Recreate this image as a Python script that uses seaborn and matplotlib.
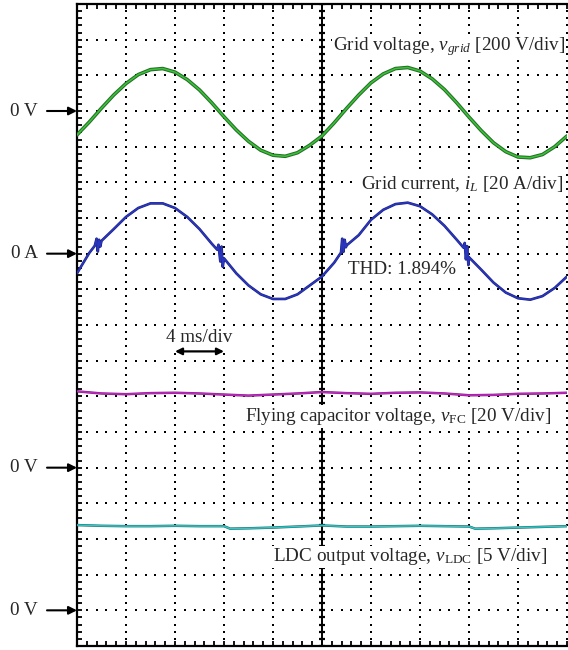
import matplotlib
matplotlib.use('Agg')

import matplotlib.pyplot as plt
import matplotlib.patheffects as pe
import numpy as np
import seaborn as sns

# time axis, ms (4 ms/div, 10 div)
t_1ms = list(range(0, 41))

# grid voltage, V (200 V/div)
v_grid = [-134, -62, 16, 90, 154, 204, 232, 238, 218, 176,
          118, 46, -32, -106, -170, -220, -248, -254, -234, -192,
          -140, -66, 14, 90, 158, 208, 238, 244, 224, 180,
          120, 46, -34, -110, -178, -228, -258, -262, -244, -200, -140]

# grid current, A (20 A/div), with the zero-crossing notches
t_il = [0, 1, 1.45, 1.6, 1.7, 1.8, 1.9, 2, 3, 4, 5, 6, 7, 8, 9, 10, 11,
        11.45, 11.55, 11.7, 11.8, 11.9, 12, 13, 14, 15, 16, 17, 18, 19,
        20, 21, 21.55, 21.65, 21.75, 21.85, 21.95, 22, 23, 24, 25, 26, 27, 28, 29, 30, 31,
        31.55, 31.65, 31.75, 31.85, 31.95, 32, 33, 34, 35, 36, 37, 38, 39, 40]
i_l = [-11.0, 0.4, 4.4, 8.4, 1.2, 7.8, 4.0, 7.2, 13.8, 20.6, 25.6, 28.2, 28.2, 25.6, 20.6, 13.8, 5.6,
       2.2, 5.0, -4.4, 4.0, -7.4, -2.6, -11.0, -17.8, -22.8, -25.4, -25.4, -22.8, -17.8,
       -12.8, -5.0, 0.6, 8.4, 1.0, 7.8, 3.6, 4.6, 10.4, 19.0, 24.6, 27.8, 28.6, 26.6, 22.0, 15.6, 7.8,
       3.4, 6.0, -3.2, 4.2, -6.4, -2.0, -9.0, -16.2, -21.8, -25.0, -25.8, -23.8, -19.2, -12.8]

# flying capacitor voltage, V (20 V/div)
t_2ms = list(range(0, 41, 2))
v_fc = [42.8, 41.6, 41.2, 41.8, 42.0, 41.6, 41.0, 40.4, 41.0, 41.6, 42.4,
        41.8, 41.4, 42.0, 42.2, 41.6, 40.6, 40.8, 41.4, 41.6, 42.0]

# LDC output voltage, V (5 V/div)
t_ldc = [0, 2, 4, 6, 8, 10, 12, 12.5, 14, 16, 18, 20, 22, 24, 26, 28, 30, 32, 32.5, 34, 36, 38, 40]
v_ldc = [11.95, 11.85, 11.8, 11.8, 11.85, 11.8, 11.8, 11.45, 11.5, 11.6, 11.75, 11.9,
         11.75, 11.75, 11.8, 11.85, 11.8, 11.75, 11.45, 11.5, 11.6, 11.7, 11.8]

# screen setup: volts/amps per division and zero-level row (div from bottom)
ms_per_div = 4
n_xdiv, n_ydiv = 10, 18
ch = {
    'grid_v': dict(scale=200, zero=15),
    'grid_i': dict(scale=20, zero=11),
    'fc': dict(scale=20, zero=5),
    'ldc': dict(scale=5, zero=1),
}

sns.set_theme(style='white')
plt.rcParams['font.family'] = ['Liberation Serif', 'DejaVu Serif']
plt.rcParams['mathtext.fontset'] = 'custom'
plt.rcParams['mathtext.rm'] = 'Liberation Serif'
plt.rcParams['mathtext.it'] = 'Liberation Serif:italic'
plt.rcParams['mathtext.bf'] = 'Liberation Serif:bold'

fig = plt.figure(figsize=(5.68, 6.5), dpi=100)
ax = fig.add_axes([77 / 568, 4 / 650, 490 / 568, 642 / 650])
ax.set_xlim(0, n_xdiv)
ax.set_ylim(0, n_ydiv)


def to_screen(t, vals, key):
    c = ch[key]
    x = np.asarray(t, dtype=float) / ms_per_div
    y = np.asarray(vals, dtype=float) / c['scale'] + c['zero']
    return x, y


# dotted graticule
minor = np.arange(0, n_xdiv + 0.001, 0.2)
minor_y = np.arange(0, n_ydiv + 0.001, 0.2)
for k in range(1, n_ydiv):
    ax.plot(minor, [k] * len(minor), ls='none', marker='s', ms=1.5, mew=0, color='black', zorder=1)
for k in range(1, n_xdiv + 1):
    if k == 5:
        continue
    ax.plot([k] * len(minor_y), minor_y, ls='none', marker='s', ms=1.5, mew=0, color='black', zorder=1)

# center axis with ticks
ax.axvline(5, color='black', lw=1.4, zorder=2)
ax.plot([5] * len(minor_y), minor_y, ls='none', marker='_', ms=5, mew=1.6, color='black', zorder=2)

# traces
x, y = to_screen(t_1ms, v_grid, 'grid_v')
sns.lineplot(x=x, y=y, ax=ax, color='#33c833', linewidth=1.1, estimator=None, zorder=4,
             path_effects=[pe.Stroke(linewidth=2.6, foreground='#2d6a2d'), pe.Normal()])
x, y = to_screen(t_il, i_l, 'grid_i')
sns.lineplot(x=x, y=y, ax=ax, color='#2a36c0', linewidth=1.1, estimator=None, zorder=4,
             path_effects=[pe.Stroke(linewidth=1.9, foreground='#1c2480'), pe.Normal()])
x, y = to_screen(t_2ms, v_fc, 'fc')
sns.lineplot(x=x, y=y, ax=ax, color='#c824c8', linewidth=1.0, estimator=None, zorder=4,
             path_effects=[pe.Stroke(linewidth=1.8, foreground='#7a2a7a'), pe.Normal()])
x, y = to_screen(t_ldc, v_ldc, 'ldc')
sns.lineplot(x=x, y=y, ax=ax, color='#2ccaca', linewidth=1.0, estimator=None, zorder=4,
             path_effects=[pe.Stroke(linewidth=1.8, foreground='#2a6a6a'), pe.Normal()])

# frame
for side in ['left', 'top', 'bottom']:
    ax.spines[side].set_color('black')
    ax.spines[side].set_linewidth(1.6)
ax.spines['right'].set_visible(False)
ax.set_xticks(minor)
ax.set_yticks(minor_y)
ax.tick_params(direction='in', length=3.5, width=1.3, color='black',
               top=True, bottom=True, left=True, right=False,
               labelbottom=False, labelleft=False)
ax.grid(False)

# channel labels
fs = 13.8
box = dict(facecolor='white', edgecolor='none', pad=0.5)
ax.text(9.96, 16.8, r'Grid voltage, $v_{grid}$ [200 V/div]', ha='right', va='center',
        fontsize=fs, bbox=box, zorder=3)
ax.text(9.92, 12.95, r'Grid current, $i_L$ [20 A/div]', ha='right', va='center',
        fontsize=fs, bbox=box, zorder=3)
ax.text(5.53, 10.56, 'THD: 1.894%', ha='left', va='center', fontsize=fs, bbox=box, zorder=3)
ax.text(9.69, 6.43, r'Flying capacitor voltage, $v_{\mathrm{FC}}$ [20 V/div]', ha='right',
        va='center', fontsize=fs, bbox=box, zorder=3)
ax.text(9.59, 2.5, r'LDC output voltage, $v_{\mathrm{LDC}}$ [5 V/div]', ha='right',
        va='center', fontsize=fs, bbox=box, zorder=3)

# time scale marker
ax.text(2.5, 8.65, '4 ms/div', ha='center', va='center', fontsize=fs, bbox=box, zorder=3)
ax.annotate('', xy=(3, 8.26), xytext=(2, 8.26),
            arrowprops=dict(arrowstyle='<|-|>', color='black', lw=1.6, mutation_scale=10,
                            shrinkA=0, shrinkB=0), zorder=5)

# zero-level markers
for key, lab in [('grid_v', '0 V'), ('grid_i', '0 A'), ('fc', '0 V'), ('ldc', '0 V')]:
    z = ch[key]['zero']
    ax.annotate('', xy=(0, z), xycoords='data', xytext=(-30, 0), textcoords='offset pixels',
                arrowprops=dict(arrowstyle='-|>', color='black', lw=1.5, mutation_scale=12,
                                shrinkA=0, shrinkB=0), annotation_clip=False)
    ax.annotate(lab, xy=(0, z), xycoords='data', xytext=(-39, 0), textcoords='offset pixels',
                ha='right', va='center', fontsize=fs, annotation_clip=False)

fig.savefig('out.png', dpi=100)
plt.close('all')
